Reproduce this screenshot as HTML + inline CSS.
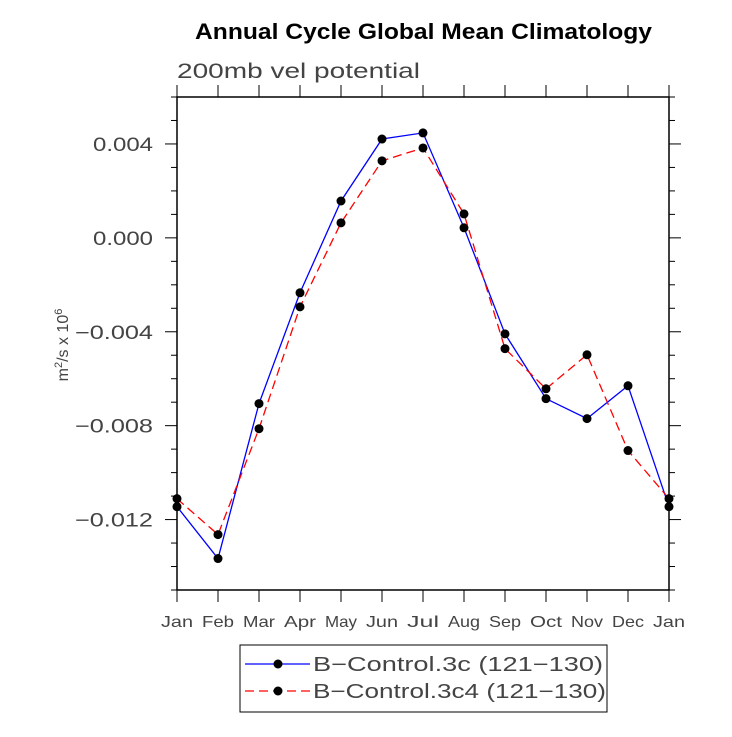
<!DOCTYPE html>
<html><head><meta charset="utf-8"><style>
body{margin:0;background:#fff;}
svg text{font-family:"Liberation Sans",sans-serif;}
</style></head><body>
<svg id="chart" width="732" height="732" xmlns="http://www.w3.org/2000/svg">
<text x="195" y="39" textLength="457" lengthAdjust="spacingAndGlyphs" font-size="22" font-weight="bold">Annual Cycle Global Mean Climatology</text>
<text x="177" y="78" textLength="243" lengthAdjust="spacingAndGlyphs" font-size="21" fill="#444">200mb vel potential</text>
<text transform="translate(68,345) rotate(-90)" text-anchor="middle" font-size="16" fill="#444">m<tspan dy="-6" font-size="11">2</tspan><tspan dy="6">/s x 10</tspan><tspan dy="-6" font-size="11">6</tspan></text>
<g id="axes"></g>
<g id="series"></g>
<rect x="240" y="645" width="367" height="67" fill="none" stroke="#000" stroke-width="1"/>
<g>
<line x1="245" y1="664" x2="310" y2="664" stroke="#00f" stroke-width="1.3"/>
<circle cx="278" cy="664" r="4.5" fill="#000"/>
<text x="313" y="671" textLength="290" lengthAdjust="spacingAndGlyphs" font-size="20" fill="#444">B−Control.3c (121−130)</text>
</g>
<g>
<line x1="245" y1="691" x2="310" y2="691" stroke="#f00" stroke-width="1.3" stroke-dasharray="9,5"/>
<circle cx="278" cy="691" r="4.5" fill="#000"/>
<text x="313" y="698" textLength="293" lengthAdjust="spacingAndGlyphs" font-size="20" fill="#444">B−Control.3c4 (121−130)</text>
</g>
</svg>
<script>
const months=["Jan","Feb","Mar","Apr","May","Jun","Jul","Aug","Sep","Oct","Nov","Dec","Jan"];
const blueVals=[-0.01145,-0.01366,-0.00706,-0.00234,0.00157,0.00421,0.00447,0.00043,-0.00409,-0.00685,-0.0077,-0.0063,-0.01145];
const redVals=[-0.01111,-0.01264,-0.00813,-0.00294,0.00064,0.00328,0.00383,0.00102,-0.00472,-0.00643,-0.00498,-0.00906,-0.01111];
const yTicks=[0.004,0.000,-0.004,-0.008,-0.012];
const yTickLabels=["0.004","0.000","\u22120.004","\u22120.008","\u22120.012"];
const L=177,R=669,T=97,B=590,yMax=0.006,yMin=-0.015;
const NS="http://www.w3.org/2000/svg";
function xs(i){return L+(R-L)*i/(months.length-1);}
function ys(v){return T+(yMax-v)/(yMax-yMin)*(B-T);}
function el(t,a,p){const e=document.createElementNS(NS,t);for(const k in a)e.setAttribute(k,a[k]);p.appendChild(e);return e;}
const ax=document.getElementById('axes');
const frame=el('rect',{x:L,y:T,width:R-L,height:B-T,fill:'none',stroke:'#000','stroke-width':1.5},ax);


for(let k=-15;k<=6;k++){const v=k*0.001,y=ys(v),maj=(k%4===0);const len=maj?12:6;
 el('line',{x1:L-len,y1:y,x2:L,y2:y,stroke:'#000','stroke-width':1},ax);
 el('line',{x1:R,y1:y,x2:R+len,y2:y,stroke:'#000','stroke-width':1},ax);}
yTicks.forEach((v,i)=>{const lab=yTickLabels[i];const w=lab.length===5?60:78;
 const t=el('text',{x:153,y:ys(v)+7,'text-anchor':'end','font-size':19,fill:'#444',textLength:w,lengthAdjust:'spacingAndGlyphs'},ax);t.textContent=lab;
 
 });
months.forEach((m,i)=>{const x=xs(i);
 el('line',{x1:x,y1:T-12,x2:x,y2:T,stroke:'#000','stroke-width':1},ax);
 el('line',{x1:x,y1:B,x2:x,y2:B+12,stroke:'#000','stroke-width':1},ax);
 const t=el('text',{x:x-16,y:627,'font-size':16,fill:'#444',textLength:32,lengthAdjust:'spacingAndGlyphs'},ax);t.textContent=m;
 
 });
const sg=document.getElementById('series');
function draw(vals,color,dash,name){
 const g=el('g',{},sg);
 
 
 const pts=vals.map((v,i)=>xs(i)+','+ys(v)).join(' ');
 const a={points:pts,fill:'none',stroke:color,'stroke-width':1.3};if(dash)a['stroke-dasharray']=dash;
 el('polyline',a,g);
 vals.forEach((v,i)=>{const c=el('circle',{cx:xs(i),cy:ys(v),r:4.5,fill:'#000'},g);
  
  });
}
draw(blueVals,'#00f',null,'series-b-control-3c');
draw(redVals,'#f00','9,5','series-b-control-3c4');
</script>
</body></html>
